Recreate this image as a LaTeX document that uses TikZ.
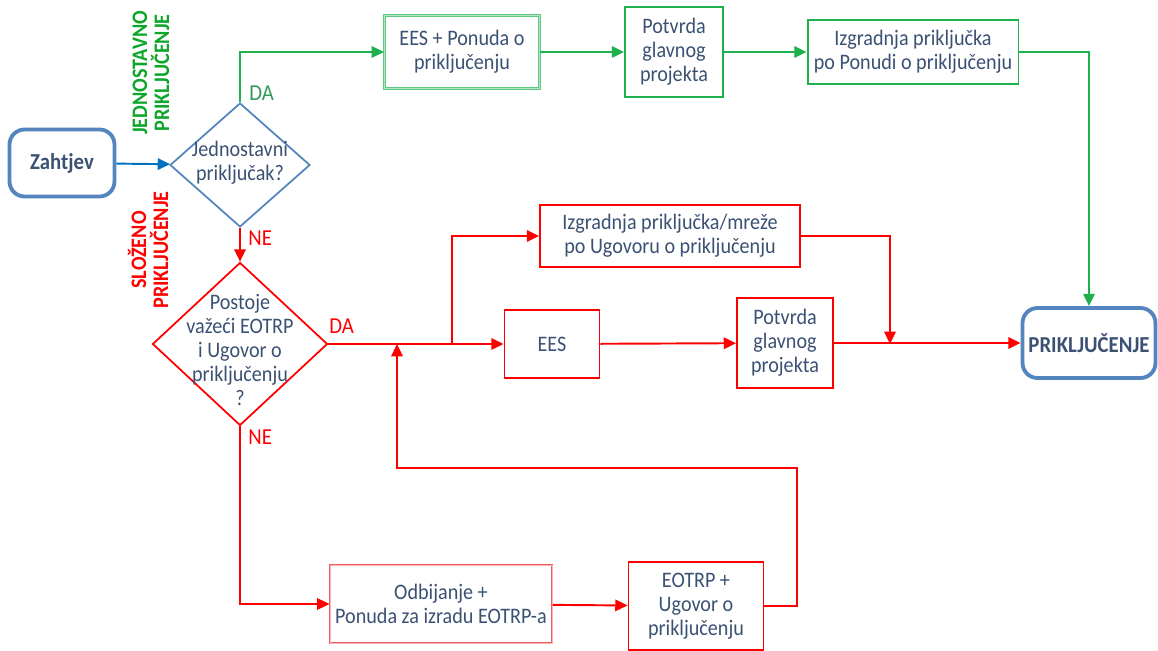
\documentclass[tikz,border=0pt]{standalone}
\usepackage{fontspec}
\setmainfont{Carlito}[FakeStretch=0.91]
\usetikzlibrary{arrows.meta, shapes.geometric, calc}
\definecolor{txtblue}{HTML}{3B5173}
\definecolor{lineblue}{HTML}{0070C0}
\definecolor{frameblue}{HTML}{5585BE}
\definecolor{okgreen}{HTML}{1DB04D}
\definecolor{lightgreen}{HTML}{5CC880}
\definecolor{dagreen}{HTML}{2E9A5A}
\definecolor{labelgreen}{HTML}{0DA52A}
\definecolor{lightred}{HTML}{F25C5C}
\tikzset{
    txt/.style={text=txtblue, align=center, inner sep=0pt,
        font=\fontsize{12.6}{13.7}\selectfont},
    box/.style args={#1 #2 #3}{txt, draw=#1, line width=1.1pt,
        minimum width=#2, minimum height=#3},
    dbox/.style args={#1 #2 #3}{txt, draw=#1, line width=0.6pt,
        double=#1!45, double distance=0.3pt,
        minimum width=#2, minimum height=#3},
    terminal/.style={txt, draw=frameblue, line width=2.2pt, rounded corners=0.3cm,
        font=\bfseries\fontsize{13}{13.7}\selectfont},
    decision/.style={diamond, draw=#1, line width=1pt, inner sep=0pt},
    flow/.style={line width=1.1pt, -{Triangle[length=7pt,width=6.5pt]}},
    answer/.style={font=\fontsize{13}{13}\selectfont, inner sep=0pt},
    branchlbl/.style={rotate=90, align=center, inner sep=0pt,
        font=\bfseries\fontsize{12.6}{12.5}\selectfont}
}
\begin{document}
\begin{tikzpicture}[x=0.02cm, y=-0.02cm]
    \useasboundingbox (0,0) rectangle (1158,651);
    % start, first question
    \node[terminal, minimum width=2.1cm, minimum height=1.34cm] (zah) at (62,163) {Zahtjev};
    \node[decision=frameblue, minimum width=2.8cm, minimum height=2.48cm] (q1) at (240,165) {};
    \node[txt] at (240,163) {Jednostavni\\priključak?};
    \node[branchlbl, text=labelgreen] (lblJ) at (151,73) {JEDNOSTAVNO\\PRIKLJUČENJE};
    \node[branchlbl, text=red] (lblS) at (148,250) {SLOŽENO\\PRIKLJUČENJE};
    % simple connection
    \node[dbox=lightgreen 3.1cm 1.46cm] (ees1) at (462,52) {EES + Ponuda o\\priključenju};
    \node[box=okgreen 1.96cm 1.8cm] (pot1) at (674,52) {Potvrda\\glavnog\\projekta};
    \node[box=okgreen 4.22cm 1.28cm] (izg1) at (913,52) {Izgradnja priključka\\po Ponudi o priključenju};
    % complex connection
    \node[decision=red, minimum width=3.5cm, minimum height=3.26cm] (q2) at (240,344) {};
    \node[txt] at (240,350) {Postoje\\važeći EOTRP\\i Ugovor o\\priključenju\\?};
    \node[box=red 5.2cm 1.24cm] (izg2) at (670,236) {Izgradnja priključka/mreže\\po Ugovoru o priključenju};
    \node[box=red 1.9cm 1.36cm] (ees2) at (552,344) {EES};
    \node[box=red 1.92cm 1.8cm] (pot2) at (785,343) {Potvrda\\glavnog\\projekta};
    \node[dbox=lightred 4.44cm 1.56cm] (odb) at (441,604) {Odbijanje +\\Ponuda za izradu EOTRP-a};
    \node[box=red 2.7cm 1.76cm] (eot) at (696,606) {EOTRP +\\Ugovor o\\priključenju};
    \node[terminal, minimum width=2.66cm, minimum height=1.4cm] (prik) at (1089,343) {PRIKLJUČENJE};
    \coordinate (br) at (452,344);
    \coordinate (mg) at (890,344);
    \coordinate (r1) at (797,468);
    \coordinate (back) at (397,344);
    % connectors
    \draw[flow, lineblue] (zah) -- (q1);
    \draw[flow, okgreen] (q1.north) |- (ees1.west);
    \draw[flow, okgreen] (ees1) -- (pot1);
    \draw[flow, okgreen] (pot1) -- (izg1);
    \draw[flow, okgreen] (izg1.east) -| (prik.north);
    \draw[flow, red] (q1.south) -- (q2.north);
    \draw[flow, red] (q2.east) -- (ees2.west);
    \draw[flow, red] (br) |- (izg2.west);
    \draw[flow, red] (izg2.east) -| (mg);
    \draw[flow, red] (ees2) -- (pot2);
    \draw[flow, red] (pot2.east) -- (prik.west);
    \draw[flow, red] (q2.south) |- (odb.west);
    \draw[flow, red] (odb) -- (eot);
    \draw[flow, red] (eot.east) -| (r1) -| (back);
    \node[answer, text=dagreen, anchor=west] (da1) at (249,93) {DA};
    \node[answer, text=red, anchor=west] (ne1) at (248,238) {NE};
    \node[answer, text=red, anchor=west] (da2) at (329,326) {DA};
    \node[answer, text=red, anchor=west] (ne2) at (248,437) {NE};
\end{tikzpicture}
\end{document}
